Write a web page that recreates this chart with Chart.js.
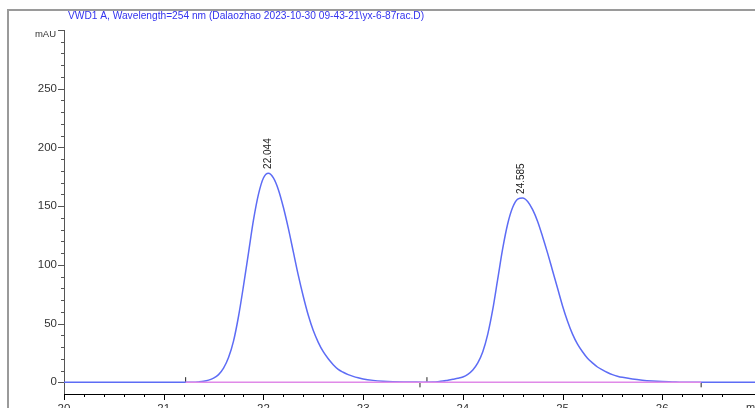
<!DOCTYPE html>
<html>
<head>
<meta charset="utf-8">
<script src="https://cdn.jsdelivr.net/npm/chart.js@4"></script>
<style>
  html, body { margin: 0; padding: 0; background: #fff; }
  #wrap { width: 755px; height: 408px; position: relative; }
</style>
</head>
<body>
<div id="wrap"><canvas id="chrom"></canvas></div>
<script>
// signal trace (min, mAU)
const retentionTimes = [
  20.00, 21.00, 21.30,
  21.35, 21.40, 21.45, 21.50, 21.55, 21.60, 21.65, 21.70, 21.75, 21.80, 21.85, 21.90, 21.95,
  22.00, 22.05, 22.10, 22.15, 22.20, 22.25, 22.30, 22.35, 22.40, 22.45, 22.50, 22.55, 22.60, 22.65, 22.70, 22.75, 22.80, 22.85, 22.90, 22.95,
  23.00, 23.10, 23.20, 23.30, 23.40, 23.50, 23.60, 23.70,
  23.75, 23.80, 23.85, 23.90, 23.95, 24.00, 24.05, 24.10, 24.15, 24.20, 24.25, 24.30, 24.35, 24.40, 24.45, 24.50, 24.55, 24.60, 24.65, 24.70, 24.75, 24.80, 24.85, 24.90, 24.95,
  25.00, 25.05, 25.10, 25.15, 25.20, 25.25, 25.30, 25.35, 25.40, 25.45, 25.50, 25.55, 25.60, 25.70, 25.80, 25.90, 26.00, 26.10, 26.20, 26.93
];
const absorbance = [
  0, 0, 0,
  0.3, 0.8, 1.8, 3.5, 6.5, 12, 21, 35, 56, 82, 110, 138, 160,
  174, 178, 174, 164, 149, 131, 111, 91, 73, 57, 44, 34, 26, 20, 15, 11, 8.5, 6.5, 5, 3.8,
  2.8, 1.6, 0.9, 0.5, 0.3, 0.2, 0.1, 0.2,
  0.5, 1.0, 1.8, 2.6, 3.4, 4.5, 6.8, 10.5, 16.5, 26, 41, 62, 88, 114, 135, 149, 156, 157, 154, 147, 137, 124, 110, 95, 80,
  65, 52, 41, 32.5, 26, 20.5, 16.5, 13, 10.5, 8.3, 6.5, 5.2, 4.2, 2.8, 1.8, 1.1, 0.6, 0.3, 0, 0
];

// integration
const peakTimes = [22.044, 24.585];
const peakHeights = [178.3, 157];
const baselineStarts = [21.22, 23.64];
const baselineEnds = [23.57, 26.39];

const titleText = 'VWD1 A, Wavelength=254 nm (Dalaozhao 2023-10-30 09-43-21\\yx-6-87rac.D)';
const yUnit = 'mAU';
const xUnit = 'min';

const trace = retentionTimes.map((t, i) => ({ x: t, y: absorbance[i] }));
const baseline = [
  { x: baselineStarts[0], y: 0 },
  { x: baselineEnds[baselineEnds.length - 1], y: 0 }
];

const FONT = '"Liberation Sans", Arial, sans-serif';

const chromPlugin = {
  id: 'chrom',
  beforeDraw(chart) {
    const ctx = chart.ctx;
    ctx.save();
    ctx.strokeStyle = '#9a9a9a';
    ctx.lineWidth = 2;
    ctx.beginPath();
    ctx.moveTo(8, 408);
    ctx.lineTo(8, 10);
    ctx.lineTo(755, 10);
    ctx.stroke();

    ctx.fillStyle = '#3333ee';
    ctx.font = '10.2px ' + FONT;
    ctx.textBaseline = 'middle';
    ctx.textAlign = 'left';
    ctx.fillText(titleText, 68, 16);
    ctx.restore();
  },
  afterDraw(chart) {
    const ctx = chart.ctx;
    const xs = chart.scales.x, ys = chart.scales.y;
    ctx.save();
    ctx.lineWidth = 1;

    // y ticks
    ctx.strokeStyle = '#555';
    ys.ticks.forEach(t => {
      if (t.value < 0) return;
      const y = Math.round(ys.getPixelForValue(t.value)) + 0.5;
      const len = t.value % 50 === 0 ? 6 : 3;
      ctx.beginPath();
      ctx.moveTo(xs.left, y);
      ctx.lineTo(xs.left - len, y);
      ctx.stroke();
    });

    // x ticks
    ctx.strokeStyle = '#000';
    xs.ticks.forEach(t => {
      const r = Math.round(t.value * 5) / 5;
      if (Math.abs(r - t.value) > 1e-6) return;
      const x = Math.round(xs.getPixelForValue(t.value)) + 0.5;
      const len = Math.abs(t.value - Math.round(t.value)) < 1e-6 ? 6 : 3;
      ctx.beginPath();
      ctx.moveTo(x, ys.bottom);
      ctx.lineTo(x, ys.bottom + len);
      ctx.stroke();
    });

    ctx.fillStyle = '#333';
    ctx.font = '11px ' + FONT;
    ctx.textBaseline = 'top';
    ctx.textAlign = 'left';
    ctx.fillText(xUnit, 746, ys.bottom + 8);

    ctx.font = '9.5px ' + FONT;
    ctx.textAlign = 'right';
    ctx.textBaseline = 'middle';
    ctx.fillText(yUnit, 56, 34);

    // retention time labels
    ctx.fillStyle = '#222';
    ctx.font = '10px ' + FONT;
    peakTimes.forEach((t, i) => {
      const x = xs.getPixelForValue(t);
      const y = ys.getPixelForValue(peakHeights[i]) - 4;
      ctx.save();
      ctx.translate(x, y);
      ctx.rotate(-Math.PI / 2);
      ctx.textAlign = 'left';
      ctx.fillText(t.toFixed(3), 0, 0);
      ctx.restore();
    });
    ctx.restore();
  }
};

new Chart(document.getElementById('chrom'), {
  type: 'line',
  data: {
    datasets: [
      {
        data: baseline,
        borderColor: '#e08ae8',
        borderWidth: 1.5,
        pointRadius: 0
      },
      {
        data: trace,
        borderColor: '#5d6cf5',
        borderWidth: 1.5,
        pointRadius: 0,
        cubicInterpolationMode: 'monotone'
      },
      {
        data: baselineStarts.map(t => ({ x: t, y: 2.2 })),
        showLine: false,
        pointStyle: 'line',
        rotation: 90,
        pointRadius: 2.5,
        borderColor: '#222',
        borderWidth: 1
      },
      {
        data: baselineEnds.map(t => ({ x: t, y: -2.2 })),
        showLine: false,
        pointStyle: 'line',
        rotation: 90,
        pointRadius: 2.5,
        borderColor: '#222',
        borderWidth: 1
      }
    ]
  },
  options: {
    responsive: true,
    maintainAspectRatio: false,
    animation: false,
    events: [],
    layout: { autoPadding: false, padding: { top: 30, left: 0, right: 0, bottom: 0 } },
    plugins: {
      legend: { display: false },
      tooltip: { enabled: false },
      title: { display: false }
    },
    scales: {
      x: {
        type: 'linear',
        min: 20,
        max: 26.93,
        grid: { display: false, tickLength: 8 },
        border: { display: true, color: '#000', width: 1 },
        ticks: {
          stepSize: 0.2,
          autoSkip: false,
          maxRotation: 0,
          padding: 0,
          color: '#333',
          font: { family: FONT, size: 11.5 },
          callback: v => Math.abs(v - Math.round(v)) < 1e-6 ? String(Math.round(v)) : ''
        },
        afterFit: s => { s.height = 14; s.paddingLeft = 0; s.paddingRight = 0; }
      },
      y: {
        min: -10,
        max: 300,
        grid: { display: false, tickLength: 7 },
        border: { display: true, color: '#555', width: 1 },
        ticks: {
          stepSize: 10,
          autoSkip: false,
          padding: 0,
          color: '#333',
          font: { family: FONT, size: 11.5 },
          callback: v => (v >= 0 && v < 300 && v % 50 === 0) ? String(v) : ''
        },
        afterFit: s => { s.width = 64; }
      }
    }
  },
  plugins: [chromPlugin]
});
</script>
</body>
</html>
